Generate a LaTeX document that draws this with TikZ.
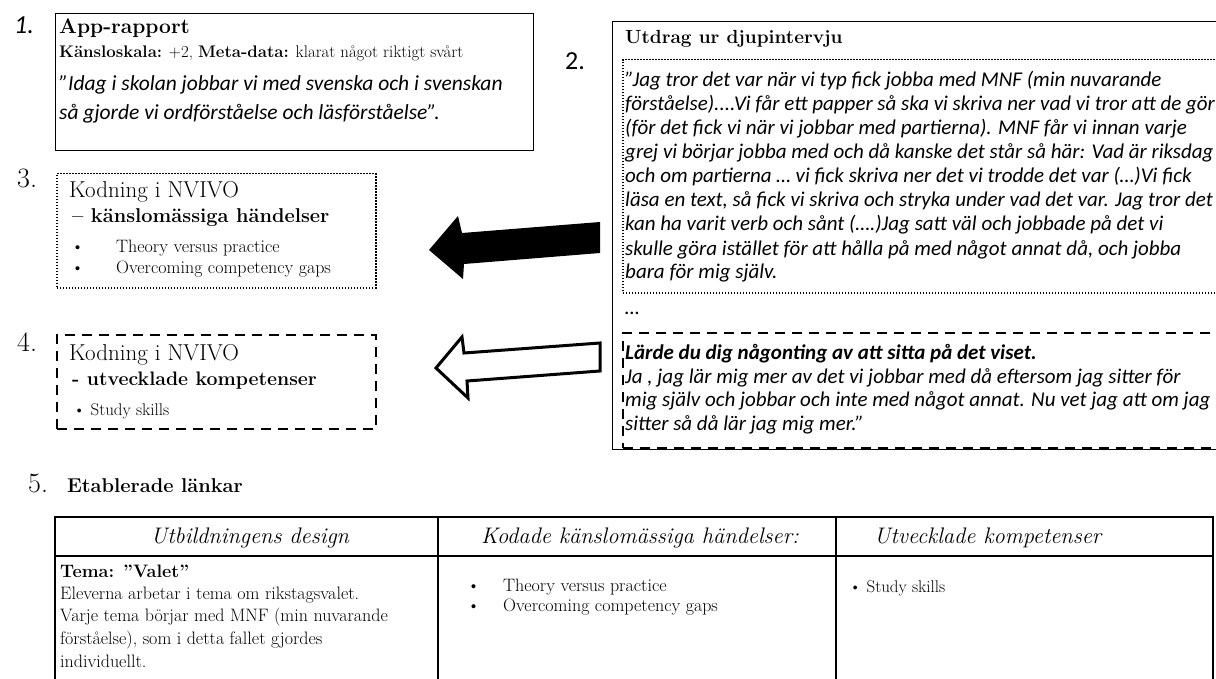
\documentclass[tikz,border=0pt]{standalone}
\usepackage{fontspec}
\newfontfamily\qf{Carlito}
\begin{document}
\begin{tikzpicture}[x=1pt,y=-1pt,
  solidbox/.style={draw, line width=1.4pt, rectangle, inner sep=0pt, anchor=north west},
  dotbox/.style={draw, line width=1.5pt, dash pattern=on 1.4pt off 1.6pt, rectangle, inner sep=0pt, anchor=north west},
  dashbox/.style={draw, line width=2pt, dash pattern=on 10pt off 7pt, rectangle, inner sep=0pt, anchor=north west},
  txt/.style={anchor=base west, inner sep=0pt},
  quote/.style={txt, font=\qf\itshape\fontsize{21}{24}\selectfont},
  numlbl/.style={txt, font=\fontsize{28}{30}\selectfont},
  head/.style={txt, font=\fontsize{19}{22}\selectfont\bfseries},
  body/.style={txt, font=\fontsize{18}{21}\selectfont},
  small/.style={txt, font=\fontsize{17}{19}\selectfont},
  colhead/.style={anchor=base, inner sep=0pt, font=\fontsize{22.5}{25}\selectfont\itshape},
  blockarrow/.style={line width=3pt, line join=miter}
]
\useasboundingbox (0,0) rectangle (1216,679);
\clip (0,0) rectangle (1216,679);
\fill[white] (0,0) rectangle (1216,679);

% ---- 1. App report ----
\node[txt, font=\qf\fontsize{26}{28}\selectfont\itshape] (n1) at (14,34) {1.};
\node[solidbox, minimum width=478pt, minimum height=137pt] (box1) at (55,13) {};
\node[txt, font=\fontsize{21}{23}\selectfont\bfseries] (t1a) at (59,34) {App-rapport};
\node[txt, font=\fontsize{16.8}{19}\selectfont] (t1b) at (59,58) {\textbf{Känsloskala:} +2, \textbf{Meta-data:} klarat något riktigt svårt};
\node[txt, font=\qf\fontsize{21.5}{24}\selectfont\itshape] (t1c) at (59,91) {”Idag i skolan jobbar vi med svenska och i svenskan};
\node[txt, font=\qf\fontsize{21.5}{24}\selectfont\itshape] (t1d) at (59,120) {så gjorde vi ordförståelse och läsförståelse”.};

% ---- 2. Interview excerpt ----
\node[txt, font=\qf\fontsize{26}{28}\selectfont] (n2) at (565,70) {2.};
\node[solidbox, minimum width=620pt, minimum height=428pt] (box2) at (612,21) {};
\node[head] (t2a) at (625,44) {Utdrag ur djupintervju};
\node[dotbox, minimum width=610pt, minimum height=233pt] (dots2) at (622,59) {};
\node[quote] (q0) at (625,87) {”Jag tror det var när vi typ fick jobba med MNF (min nuvarande};
\node[quote] (q1) at (625,111) {förståelse)....Vi får ett papper så ska vi skriva ner vad vi tror att de gör};
\node[quote] (q2) at (625,135) {(för det fick vi när vi jobbar med partierna). MNF får vi innan varje};
\node[quote] (q3) at (625,159) {grej vi börjar jobba med och då kanske det står så här: Vad är riksdag};
\node[quote] (q4) at (625,183) {och om partierna … vi fick skriva ner det vi trodde det var (…)Vi fick};
\node[quote] (q5) at (625,207) {läsa en text, så fick vi skriva och stryka under vad det var. Jag tror det};
\node[quote] (q6) at (625,231) {kan ha varit verb och sånt (….)Jag satt väl och jobbade på det vi};
\node[quote] (q7) at (625,255) {skulle göra istället för att hålla på med något annat då, och jobba};
\node[quote] (q8) at (625,279) {bara för mig själv.};
\node[quote] (gap) at (625,314) {…};
\node[dashbox, minimum width=610pt, minimum height=115pt] (dash2) at (622,332) {};
\node[txt, font=\qf\fontsize{21}{24}\selectfont\bfseries\itshape] (r0) at (625,359) {Lärde du dig någonting av att sitta på det viset.};
\node[quote] (r1) at (625,383) {Ja , jag lär mig mer av det vi jobbar med då eftersom jag sitter för};
\node[quote] (r2) at (625,406) {mig själv och jobbar och inte med något annat. Nu vet jag att om jag};
\node[quote] (r3) at (625,430) {sitter så då lär jag mig mer.”};

% ---- 3. Coding: emotional events ----
\node[numlbl] (n3) at (17,188) {3.};
\node[dotbox, minimum width=319pt, minimum height=114pt] (box3) at (56,173) {};
\node[txt, font=\fontsize{23}{25}\selectfont] (t3a) at (69,198) {Kodning i NVIVO};
\node[txt, font=\fontsize{20}{22}\selectfont\bfseries] (t3b) at (72,223) {– känslomässiga händelser};
\node[body] (b3a) at (71,253) {•};
\node[body] (t3c) at (116,253) {Theory versus practice};
\node[body] (b3b) at (71,274) {•};
\node[body] (t3d) at (116,274) {Overcoming competency gaps};

% ---- 4. Coding: developed competences ----
\node[numlbl] (n4) at (17,351) {4.};
\node[dashbox, minimum width=319pt, minimum height=94pt] (box4) at (56,334) {};
\node[txt, font=\fontsize{23}{25}\selectfont] (t4a) at (69,360) {Kodning i NVIVO};
\node[txt, font=\fontsize{19.5}{22}\selectfont\bfseries] (t4b) at (72,385) {- utvecklade kompetenser};
\node[small] (t4c) at (73,415) {• Study skills};

% ---- block arrows from the excerpt to the codings ----
\coordinate (a1tip) at (429,250);
\fill[black] (600,222) -- (462,233) -- (458,216) -- (a1tip) -- (463,279) -- (464,264) -- (600,253) -- cycle;
\coordinate (a2tip) at (436,368);
\draw[blockarrow, fill=white] (600,343) -- (464,353) -- (462,337) -- (a2tip) -- (468,398) -- (467,381) -- (600,371) -- cycle;

% ---- 5. Established links ----
\node[numlbl] (n5) at (28,492) {5.};
\node[txt, font=\fontsize{20}{22}\selectfont\bfseries] (t5) at (67,492) {Etablerade länkar};
\coordinate (tl) at (55,517);
\coordinate (tr) at (1213,517);
\draw[line width=1.5pt] (55,700) -- (tl) -- (tr) -- (1213,700);
\draw[line width=1.5pt] (55,556) -- (1213,556);
\draw[line width=1.5pt] (438,517) -- (438,700);
\draw[line width=1.5pt] (836,517) -- (836,700);
\node[colhead] (h1) at (250,543) {Utbildningens design};
\node[colhead] (h2) at (640,543) {Kodade känslomässiga händelser:};
\node[colhead, anchor=base west] (h3) at (874,543) {Utvecklade kompetenser};

\node[txt, font=\fontsize{18}{21}\selectfont\bfseries] (c1a) at (60,577) {Tema: ”Valet”};
\node[body] (c1b) at (60,599) {Eleverna arbetar i tema om rikstagsvalet.};
\node[body] (c1c) at (60,621) {Varje tema börjar med MNF (min nuvarande};
\node[body] (c1d) at (60,644) {förståelse), som i detta fallet gjordes};
\node[body] (c1e) at (60,667) {individuellt.};

\node[body] (c2b1) at (467,591) {•};
\node[body] (c2a) at (503,591) {Theory versus practice};
\node[body] (c2b2) at (467,611) {•};
\node[body] (c2b) at (503,611) {Overcoming competency gaps};

\node[small] (c3a) at (849,592) {• Study skills};
\end{tikzpicture}
\end{document}
